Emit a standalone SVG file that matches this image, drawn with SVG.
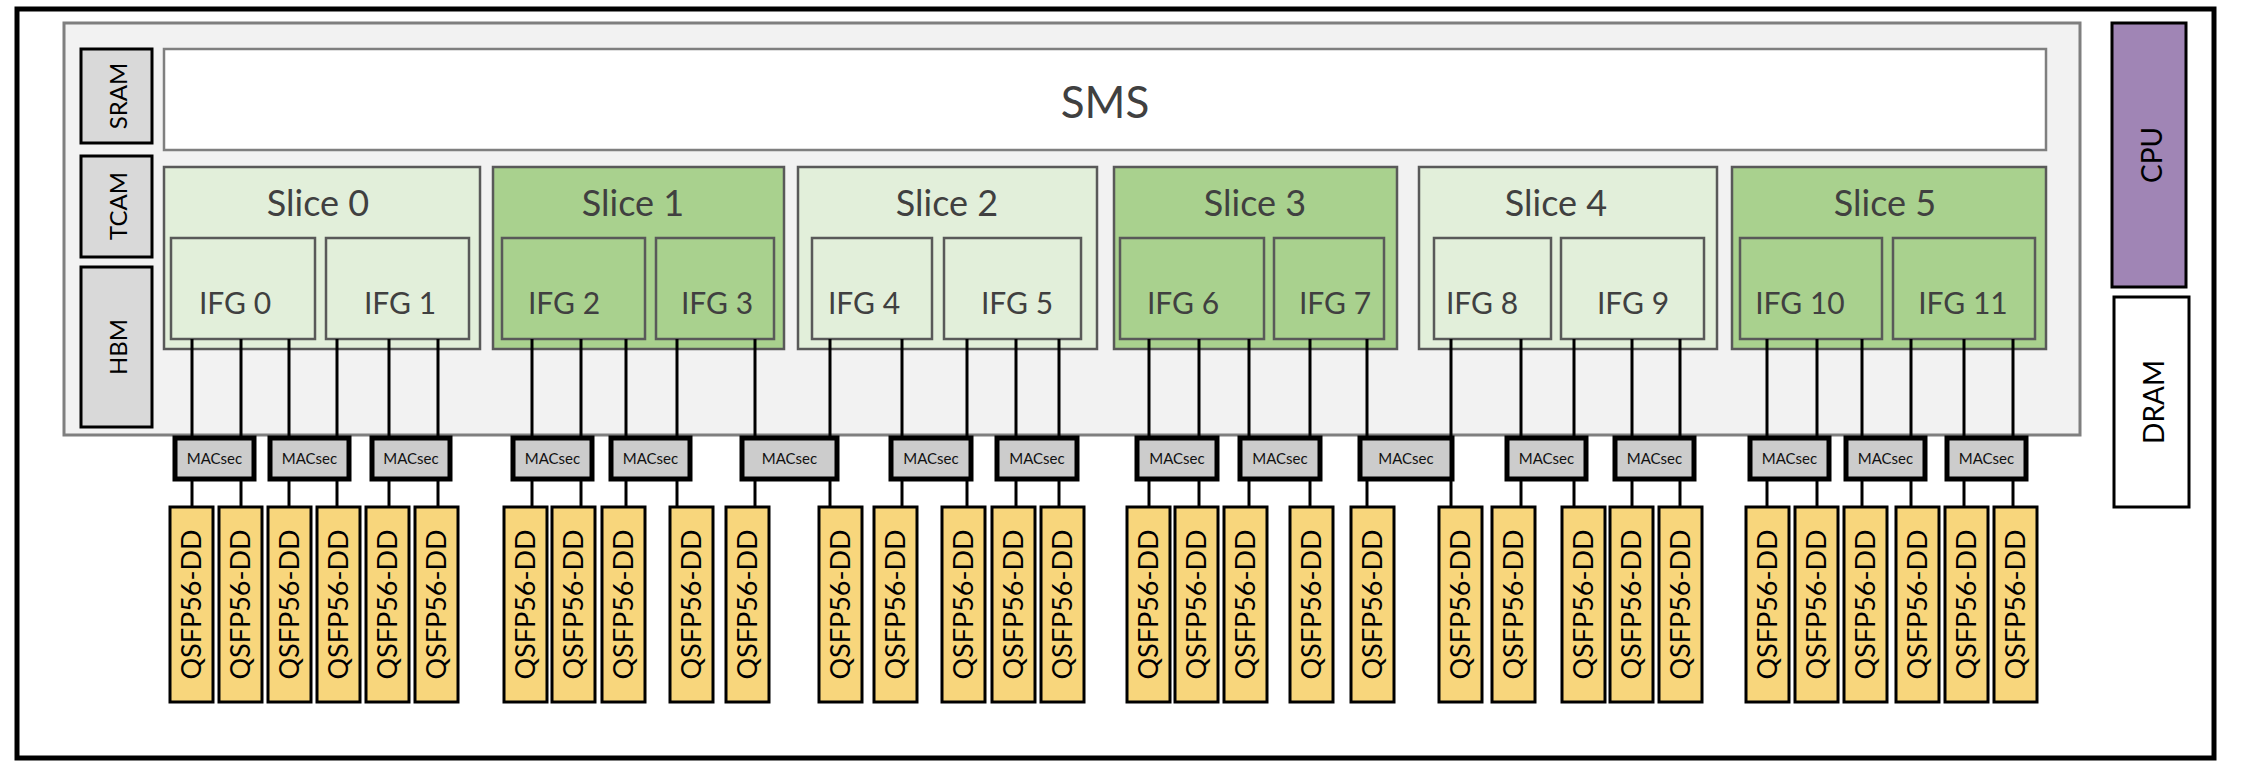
<svg xmlns="http://www.w3.org/2000/svg" width="2242" height="770" viewBox="0 0 2242 770">
<style>
text{font-family:Lato,"Open Sans","Liberation Sans",sans-serif;fill:#404040}
.mem{fill:#d9d9d9;stroke:#000;stroke-width:3}
.lt{fill:#e2efda;stroke:#595959;stroke-width:2.5}
.dk{fill:#a9d18e;stroke:#595959;stroke-width:2.5}
.mac{fill:#cccccc;stroke:#000;stroke-width:5}
.q{fill:#f8d67c;stroke:#000;stroke-width:3}
.qt{font-size:27px;fill:#000}
.mt{font-size:15px;fill:#111}
.st{font-size:36px}
.it{font-size:30px}
line{stroke:#000;stroke-width:3}
</style>
<rect x="17" y="9" width="2197" height="749" fill="#fff" stroke="#000" stroke-width="5"/>
<rect x="64" y="23" width="2016" height="412" fill="#f2f2f2" stroke="#7f7f7f" stroke-width="3"/>
<g id="sram"><rect class="mem" x="81" y="49" width="71" height="94"/><text transform="translate(127,96) rotate(-90)" text-anchor="middle" font-size="24" fill="#000" style="fill:#000">SRAM</text></g>
<g id="tcam"><rect class="mem" x="81" y="156" width="71" height="101"/><text transform="translate(127,206) rotate(-90)" text-anchor="middle" font-size="24" style="fill:#000">TCAM</text></g>
<g id="hbm"><rect class="mem" x="81" y="267" width="71" height="160"/><text transform="translate(127,347) rotate(-90)" text-anchor="middle" font-size="24" style="fill:#000">HBM</text></g>
<g id="sms"><rect x="164" y="49" width="1882" height="101" fill="#fff" stroke="#7f7f7f" stroke-width="2.5"/><text x="1105" y="118" text-anchor="middle" font-size="44">SMS</text></g>
<g id="slice0"><rect class="lt" x="164" y="167" width="316" height="182"/><text class="st" x="318" y="216" text-anchor="middle">Slice 0</text></g>
<g id="slice1"><rect class="dk" x="493" y="167" width="291" height="182"/><text class="st" x="633" y="216" text-anchor="middle">Slice 1</text></g>
<g id="slice2"><rect class="lt" x="798" y="167" width="299" height="182"/><text class="st" x="947" y="216" text-anchor="middle">Slice 2</text></g>
<g id="slice3"><rect class="dk" x="1114" y="167" width="283" height="182"/><text class="st" x="1255" y="216" text-anchor="middle">Slice 3</text></g>
<g id="slice4"><rect class="lt" x="1419" y="167" width="298" height="182"/><text class="st" x="1556" y="216" text-anchor="middle">Slice 4</text></g>
<g id="slice5"><rect class="dk" x="1732" y="167" width="314" height="182"/><text class="st" x="1885" y="216" text-anchor="middle">Slice 5</text></g>
<g id="ifg0"><rect class="lt" x="171" y="238" width="144" height="101"/><text class="it" x="235" y="314" text-anchor="middle">IFG 0</text></g>
<g id="ifg1"><rect class="lt" x="326" y="238" width="143" height="101"/><text class="it" x="400" y="314" text-anchor="middle">IFG 1</text></g>
<g id="ifg2"><rect class="dk" x="502" y="238" width="143" height="101"/><text class="it" x="564" y="314" text-anchor="middle">IFG 2</text></g>
<g id="ifg3"><rect class="dk" x="656" y="238" width="118" height="101"/><text class="it" x="717" y="314" text-anchor="middle">IFG 3</text></g>
<g id="ifg4"><rect class="lt" x="812" y="238" width="120" height="101"/><text class="it" x="864" y="314" text-anchor="middle">IFG 4</text></g>
<g id="ifg5"><rect class="lt" x="944" y="238" width="137" height="101"/><text class="it" x="1017" y="314" text-anchor="middle">IFG 5</text></g>
<g id="ifg6"><rect class="dk" x="1120" y="238" width="144" height="101"/><text class="it" x="1183" y="314" text-anchor="middle">IFG 6</text></g>
<g id="ifg7"><rect class="dk" x="1274" y="238" width="110" height="101"/><text class="it" x="1335" y="314" text-anchor="middle">IFG 7</text></g>
<g id="ifg8"><rect class="lt" x="1434" y="238" width="117" height="101"/><text class="it" x="1482" y="314" text-anchor="middle">IFG 8</text></g>
<g id="ifg9"><rect class="lt" x="1561" y="238" width="143" height="101"/><text class="it" x="1633" y="314" text-anchor="middle">IFG 9</text></g>
<g id="ifg10"><rect class="dk" x="1740" y="238" width="142" height="101"/><text class="it" x="1800" y="314" text-anchor="middle">IFG 10</text></g>
<g id="ifg11"><rect class="dk" x="1893" y="238" width="142" height="101"/><text class="it" x="1963" y="314" text-anchor="middle">IFG 11</text></g>
<g id="cpu"><rect x="2112" y="23" width="74" height="264" fill="#a085b5" stroke="#000" stroke-width="3"/><text transform="translate(2162,155) rotate(-90)" text-anchor="middle" font-size="28" style="fill:#000">CPU</text></g>
<g id="dram"><rect x="2114" y="297" width="75" height="210" fill="#fff" stroke="#000" stroke-width="3"/><text transform="translate(2164,402) rotate(-90)" text-anchor="middle" font-size="28" style="fill:#000">DRAM</text></g>
<g id="connectors">
<line x1="192" y1="339" x2="192" y2="507"/><line x1="241" y1="339" x2="241" y2="507"/>
<line x1="289" y1="339" x2="289" y2="507"/><line x1="337" y1="339" x2="337" y2="507"/>
<line x1="389" y1="339" x2="389" y2="507"/><line x1="438" y1="339" x2="438" y2="507"/>
<line x1="532" y1="339" x2="532" y2="507"/><line x1="581" y1="339" x2="581" y2="507"/>
<line x1="626" y1="339" x2="626" y2="507"/><line x1="677" y1="339" x2="677" y2="507"/>
<line x1="755" y1="339" x2="755" y2="507"/><line x1="830" y1="339" x2="830" y2="507"/>
<line x1="902" y1="339" x2="902" y2="507"/><line x1="967" y1="339" x2="967" y2="507"/>
<line x1="1016" y1="339" x2="1016" y2="507"/><line x1="1059" y1="339" x2="1059" y2="507"/>
<line x1="1149" y1="339" x2="1149" y2="507"/><line x1="1199" y1="339" x2="1199" y2="507"/>
<line x1="1249" y1="339" x2="1249" y2="507"/><line x1="1310" y1="339" x2="1310" y2="507"/>
<line x1="1367" y1="339" x2="1367" y2="507"/><line x1="1451" y1="339" x2="1451" y2="507"/>
<line x1="1521" y1="339" x2="1521" y2="507"/><line x1="1574" y1="339" x2="1574" y2="507"/>
<line x1="1632" y1="339" x2="1632" y2="507"/><line x1="1680" y1="339" x2="1680" y2="507"/>
<line x1="1767" y1="339" x2="1767" y2="507"/><line x1="1817" y1="339" x2="1817" y2="507"/>
<line x1="1862" y1="339" x2="1862" y2="507"/><line x1="1911" y1="339" x2="1911" y2="507"/>
<line x1="1964" y1="339" x2="1964" y2="507"/><line x1="2013" y1="339" x2="2013" y2="507"/>
</g>
<g id="macsec">
<g id="m1"><rect class="mac" x="175" y="438" width="79" height="41"/><text class="mt" x="214.5" y="464" text-anchor="middle">MACsec</text></g>
<g id="m2"><rect class="mac" x="270" y="438" width="79" height="41"/><text class="mt" x="309.5" y="464" text-anchor="middle">MACsec</text></g>
<g id="m3"><rect class="mac" x="372" y="438" width="78" height="41"/><text class="mt" x="411" y="464" text-anchor="middle">MACsec</text></g>
<g id="m4"><rect class="mac" x="513" y="438" width="79" height="41"/><text class="mt" x="552.5" y="464" text-anchor="middle">MACsec</text></g>
<g id="m5"><rect class="mac" x="611" y="438" width="79" height="41"/><text class="mt" x="650.5" y="464" text-anchor="middle">MACsec</text></g>
<g id="m6"><rect class="mac" x="742" y="438" width="95" height="41"/><text class="mt" x="789.5" y="464" text-anchor="middle">MACsec</text></g>
<g id="m7"><rect class="mac" x="891" y="438" width="80" height="41"/><text class="mt" x="931" y="464" text-anchor="middle">MACsec</text></g>
<g id="m8"><rect class="mac" x="997" y="438" width="80" height="41"/><text class="mt" x="1037" y="464" text-anchor="middle">MACsec</text></g>
<g id="m9"><rect class="mac" x="1137" y="438" width="80" height="41"/><text class="mt" x="1177" y="464" text-anchor="middle">MACsec</text></g>
<g id="m10"><rect class="mac" x="1240" y="438" width="80" height="41"/><text class="mt" x="1280" y="464" text-anchor="middle">MACsec</text></g>
<g id="m11"><rect class="mac" x="1360" y="438" width="92" height="41"/><text class="mt" x="1406" y="464" text-anchor="middle">MACsec</text></g>
<g id="m12"><rect class="mac" x="1507" y="438" width="79" height="41"/><text class="mt" x="1546.5" y="464" text-anchor="middle">MACsec</text></g>
<g id="m13"><rect class="mac" x="1615" y="438" width="79" height="41"/><text class="mt" x="1654.5" y="464" text-anchor="middle">MACsec</text></g>
<g id="m14"><rect class="mac" x="1750" y="438" width="79" height="41"/><text class="mt" x="1789.5" y="464" text-anchor="middle">MACsec</text></g>
<g id="m15"><rect class="mac" x="1846" y="438" width="79" height="41"/><text class="mt" x="1885.5" y="464" text-anchor="middle">MACsec</text></g>
<g id="m16"><rect class="mac" x="1947" y="438" width="79" height="41"/><text class="mt" x="1986.5" y="464" text-anchor="middle">MACsec</text></g>
</g>
<g id="qsfp">
<g><rect class="q" x="170" y="507" width="43" height="195"/><text class="qt" transform="translate(201,604.5) rotate(-90)" text-anchor="middle">QSFP56-DD</text></g>
<g><rect class="q" x="219" y="507" width="43" height="195"/><text class="qt" transform="translate(250,604.5) rotate(-90)" text-anchor="middle">QSFP56-DD</text></g>
<g><rect class="q" x="268" y="507" width="43" height="195"/><text class="qt" transform="translate(299,604.5) rotate(-90)" text-anchor="middle">QSFP56-DD</text></g>
<g><rect class="q" x="317" y="507" width="43" height="195"/><text class="qt" transform="translate(348,604.5) rotate(-90)" text-anchor="middle">QSFP56-DD</text></g>
<g><rect class="q" x="366" y="507" width="43" height="195"/><text class="qt" transform="translate(397,604.5) rotate(-90)" text-anchor="middle">QSFP56-DD</text></g>
<g><rect class="q" x="415" y="507" width="43" height="195"/><text class="qt" transform="translate(446,604.5) rotate(-90)" text-anchor="middle">QSFP56-DD</text></g>
<g><rect class="q" x="504" y="507" width="43" height="195"/><text class="qt" transform="translate(535,604.5) rotate(-90)" text-anchor="middle">QSFP56-DD</text></g>
<g><rect class="q" x="552" y="507" width="43" height="195"/><text class="qt" transform="translate(583,604.5) rotate(-90)" text-anchor="middle">QSFP56-DD</text></g>
<g><rect class="q" x="602" y="507" width="43" height="195"/><text class="qt" transform="translate(633,604.5) rotate(-90)" text-anchor="middle">QSFP56-DD</text></g>
<g><rect class="q" x="670" y="507" width="43" height="195"/><text class="qt" transform="translate(701,604.5) rotate(-90)" text-anchor="middle">QSFP56-DD</text></g>
<g><rect class="q" x="726" y="507" width="43" height="195"/><text class="qt" transform="translate(757,604.5) rotate(-90)" text-anchor="middle">QSFP56-DD</text></g>
<g><rect class="q" x="819" y="507" width="43" height="195"/><text class="qt" transform="translate(850,604.5) rotate(-90)" text-anchor="middle">QSFP56-DD</text></g>
<g><rect class="q" x="874" y="507" width="43" height="195"/><text class="qt" transform="translate(905,604.5) rotate(-90)" text-anchor="middle">QSFP56-DD</text></g>
<g><rect class="q" x="942" y="507" width="43" height="195"/><text class="qt" transform="translate(973,604.5) rotate(-90)" text-anchor="middle">QSFP56-DD</text></g>
<g><rect class="q" x="992" y="507" width="43" height="195"/><text class="qt" transform="translate(1023,604.5) rotate(-90)" text-anchor="middle">QSFP56-DD</text></g>
<g><rect class="q" x="1041" y="507" width="43" height="195"/><text class="qt" transform="translate(1072,604.5) rotate(-90)" text-anchor="middle">QSFP56-DD</text></g>
<g><rect class="q" x="1127" y="507" width="43" height="195"/><text class="qt" transform="translate(1158,604.5) rotate(-90)" text-anchor="middle">QSFP56-DD</text></g>
<g><rect class="q" x="1175" y="507" width="43" height="195"/><text class="qt" transform="translate(1206,604.5) rotate(-90)" text-anchor="middle">QSFP56-DD</text></g>
<g><rect class="q" x="1224" y="507" width="43" height="195"/><text class="qt" transform="translate(1255,604.5) rotate(-90)" text-anchor="middle">QSFP56-DD</text></g>
<g><rect class="q" x="1290" y="507" width="43" height="195"/><text class="qt" transform="translate(1321,604.5) rotate(-90)" text-anchor="middle">QSFP56-DD</text></g>
<g><rect class="q" x="1351" y="507" width="43" height="195"/><text class="qt" transform="translate(1382,604.5) rotate(-90)" text-anchor="middle">QSFP56-DD</text></g>
<g><rect class="q" x="1439" y="507" width="43" height="195"/><text class="qt" transform="translate(1470,604.5) rotate(-90)" text-anchor="middle">QSFP56-DD</text></g>
<g><rect class="q" x="1492" y="507" width="43" height="195"/><text class="qt" transform="translate(1523,604.5) rotate(-90)" text-anchor="middle">QSFP56-DD</text></g>
<g><rect class="q" x="1562" y="507" width="43" height="195"/><text class="qt" transform="translate(1593,604.5) rotate(-90)" text-anchor="middle">QSFP56-DD</text></g>
<g><rect class="q" x="1610" y="507" width="43" height="195"/><text class="qt" transform="translate(1641,604.5) rotate(-90)" text-anchor="middle">QSFP56-DD</text></g>
<g><rect class="q" x="1659" y="507" width="43" height="195"/><text class="qt" transform="translate(1690,604.5) rotate(-90)" text-anchor="middle">QSFP56-DD</text></g>
<g><rect class="q" x="1746" y="507" width="43" height="195"/><text class="qt" transform="translate(1777,604.5) rotate(-90)" text-anchor="middle">QSFP56-DD</text></g>
<g><rect class="q" x="1795" y="507" width="43" height="195"/><text class="qt" transform="translate(1826,604.5) rotate(-90)" text-anchor="middle">QSFP56-DD</text></g>
<g><rect class="q" x="1844" y="507" width="43" height="195"/><text class="qt" transform="translate(1875,604.5) rotate(-90)" text-anchor="middle">QSFP56-DD</text></g>
<g><rect class="q" x="1896" y="507" width="43" height="195"/><text class="qt" transform="translate(1927,604.5) rotate(-90)" text-anchor="middle">QSFP56-DD</text></g>
<g><rect class="q" x="1945" y="507" width="43" height="195"/><text class="qt" transform="translate(1976,604.5) rotate(-90)" text-anchor="middle">QSFP56-DD</text></g>
<g><rect class="q" x="1994" y="507" width="43" height="195"/><text class="qt" transform="translate(2025,604.5) rotate(-90)" text-anchor="middle">QSFP56-DD</text></g>
</g>
</svg>
